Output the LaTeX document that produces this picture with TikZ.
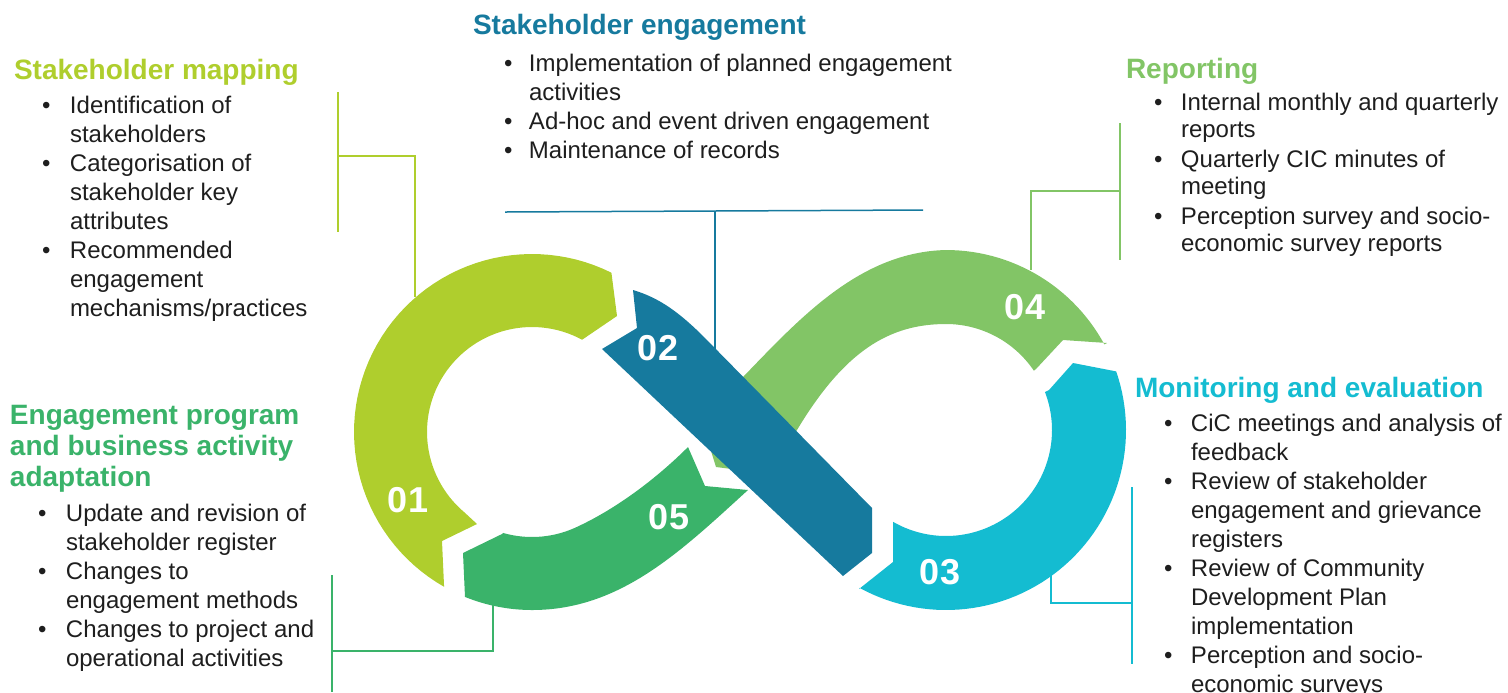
\documentclass[tikz,border=0pt]{standalone}
\usepackage{fontspec}
\setmainfont{Liberation Sans}
\definecolor{cA}{HTML}{AFCE2D}
\definecolor{cB}{HTML}{167A9E}
\definecolor{cC}{HTML}{14BCD1}
\definecolor{cD}{HTML}{82C566}
\definecolor{cE}{HTML}{3AB36A}
\definecolor{txc}{HTML}{1E1E1E}
\newcommand{\bul}[1]{\makebox[#1][l]{•}}
\begin{document}
\begin{tikzpicture}[x=0.5pt,y=-0.5pt,
  body/.style={inner sep=0pt, outer sep=0pt, text=txc, font=\fontsize{12}{14.5}\selectfont},
  head/.style={inner sep=0pt, outer sep=0pt, font=\fontsize{14}{15.5}\selectfont\bfseries},
  num/.style={inner sep=0pt, text=white, font=\fontsize{18}{20}\selectfont\bfseries},
  link/.style={line width=0.75pt}]
\useasboundingbox (0,0) rectangle (1508,692);

% ---- segment 04 (under 02)
\fill[cD] (1107,343) -- (1063,340) -- (1036,369)
  -- plot[domain=-34:-90,samples=30] ({946+106*cos(\x)},{430+106*sin(\x)})
  .. controls (890,324) and (845,350) .. (797,430)
  -- (755,472)
  -- (716,467) -- (701,419) -- (743,377)
  .. controls (800,318) and (860,252) .. (946,250)
  -- plot[domain=-90:-28.4,samples=30] ({946+180*cos(\x)},{430+180*sin(\x)})
  -- cycle;

% ---- segment 05
\fill[cE] (465,597) -- (463,553) -- (502,534)
  -- plot[domain=106:65,samples=20] ({532+105*cos(\x)},{432+105*sin(\x)})
  .. controls (620,507) and (660,475) .. (688,447)
  -- (705,486) -- (748,490)
  .. controls (680,552) and (620,610) .. (532,610)
  -- plot[domain=90:112,samples=20] ({532+178*cos(\x)},{432+178*sin(\x)})
  -- cycle;

% ---- segment 01
\fill[cA] plot[domain=-63.5:-240.4,samples=60] ({532+178*cos(\x)},{432+178*sin(\x)})
  -- (442,541) -- (477,524)
  -- plot[domain=130:298.5,samples=60] ({532+105*cos(\x)},{432+105*sin(\x)})
  -- (617,316) -- cycle;

% ---- segment 03
\fill[cC] (893,522) -- (893,562) -- (859,589)
  -- plot[domain=118.7:-19,samples=60] ({946+180*cos(\x)},{430+180*sin(\x)})
  -- (1073,363) -- (1049,390)
  -- plot[domain=-21:120,samples=60] ({946+106*cos(\x)},{430+106*sin(\x)})
  -- cycle;

% ---- segment 02
\fill[cB] (633,290) -- (637,328) -- (602,349) -- (843,576) -- (872,553) -- (872,508)
  -- (705,338) .. controls (680,313) and (660,298) .. (633,290) -- cycle;

% numbers
\node[num] (n1) at (408,500) {01};
\node[num] (n2) at (658,348) {02};
\node[num] (n3) at (940,572) {03};
\node[num] (n4) at (1025,307) {04};
\node[num] (n5) at (669,517) {05};

% connectors
\coordinate (a1) at (338,92);  \coordinate (a2) at (338,232);
\coordinate (a3) at (338,156); \coordinate (a4) at (415,156); \coordinate (a5) at (415,297);
\draw[link,cA] (a1) -- (a2);
\draw[link,cA] (a3) -- (a4) -- (a5);

\coordinate (b1) at (505,212); \coordinate (b2) at (923,210);
\coordinate (b3) at (715,211); \coordinate (b4) at (715,350);
\draw[link,cB] (b1) -- (b2);
\draw[link,cB] (b3) -- (b4);

\coordinate (d1) at (1120,123); \coordinate (d2) at (1120,260);
\coordinate (d3) at (1120,191); \coordinate (d4) at (1031,191); \coordinate (d5) at (1031,270);
\draw[link,cD] (d1) -- (d2);
\draw[link,cD] (d3) -- (d4) -- (d5);

\coordinate (c1) at (1132,487); \coordinate (c2) at (1132,664);
\coordinate (c3) at (1132,603); \coordinate (c4) at (1051,603); \coordinate (c5) at (1051,575);
\draw[link,cC] (c1) -- (c2);
\draw[link,cC] (c3) -- (c4) -- (c5);

\coordinate (e1) at (332,575); \coordinate (e2) at (332,692);
\coordinate (e3) at (332,651); \coordinate (e4) at (493,651); \coordinate (e5) at (493,605);
\draw[link,cE] (e1) -- (e2);
\draw[link,cE] (e3) -- (e4) -- (e5);

% ---- texts
\node[head,text=cA,anchor=base west] (hA) at (14,79) {Stakeholder mapping};
\node[body,anchor=base west] (tA) at (42,113) {\begin{tabular}[t]{@{}l@{}l@{}}
\bul{14pt} & Identification of\\
 & stakeholders\\
\bul{14pt} & Categorisation of\\
 & stakeholder key\\
 & attributes\\
\bul{14pt} & Recommended\\
 & engagement\\
 & mechanisms/practices
\end{tabular}};

\node[head,text=cB,anchor=base west] (hB) at (473,34) {Stakeholder engagement};
\node[body,anchor=base west] (tB) at (504,71) {\begin{tabular}[t]{@{}l@{}l@{}}
\bul{12.5pt} & Implementation of planned engagement\\
 & activities\\
\bul{12.5pt} & Ad-hoc and event driven engagement\\
\bul{12.5pt} & Maintenance of records
\end{tabular}};

\node[head,text=cD,anchor=base west] (hD) at (1126,78) {Reporting};
\node[body,anchor=base west,font=\fontsize{12}{13.5}\selectfont] (tD) at (1154,110) {\begin{tabular}[t]{@{}l@{}l@{}}
\bul{13.5pt} & Internal monthly and quarterly\\
 & reports\\[1.5pt]
\bul{13.5pt} & Quarterly CIC minutes of\\
 & meeting\\[1.5pt]
\bul{13.5pt} & Perception survey and socio-\\
 & economic survey reports
\end{tabular}};

\node[head,text=cC,anchor=base west] (hC) at (1135,397) {Monitoring and evaluation};
\node[body,anchor=base west] (tC) at (1164,431) {\begin{tabular}[t]{@{}l@{}l@{}}
\bul{13.5pt} & CiC meetings and analysis of\\
 & feedback\\
\bul{13.5pt} & Review of stakeholder\\
 & engagement and grievance\\
 & registers\\
\bul{13.5pt} & Review of Community\\
 & Development Plan\\
 & implementation\\
\bul{13.5pt} & Perception and socio-\\
 & economic surveys
\end{tabular}};

\node[head,text=cE,anchor=base west] (hE) at (10,424) {\begin{tabular}[t]{@{}l@{}}
Engagement program\\
and business activity\\
adaptation
\end{tabular}};
\node[body,anchor=base west] (tE) at (38,521) {\begin{tabular}[t]{@{}l@{}l@{}}
\bul{14pt} & Update and revision of\\
 & stakeholder register\\
\bul{14pt} & Changes to\\
 & engagement methods\\
\bul{14pt} & Changes to project and\\
 & operational activities
\end{tabular}};
\end{tikzpicture}
\end{document}
